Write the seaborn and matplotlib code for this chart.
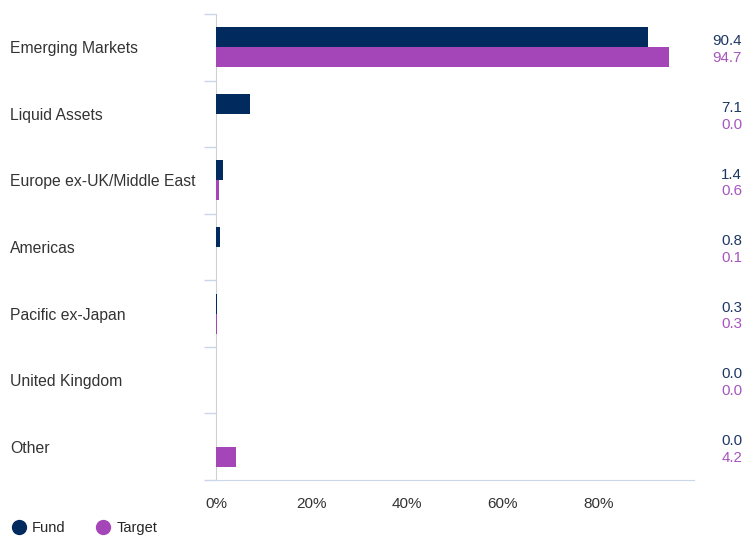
import pandas as pd
import matplotlib
matplotlib.use("Agg")
import matplotlib.pyplot as plt
import matplotlib.transforms as mtransforms
from matplotlib.lines import Line2D
import seaborn as sns

# ==========================================
# DATA
# ==========================================

regions = [
    "Emerging Markets",
    "Liquid Assets",
    "Europe ex-UK/Middle East",
    "Americas",
    "Pacific ex-Japan",
    "United Kingdom",
    "Other",
]
fund = [90.4, 7.1, 1.4, 0.8, 0.3, 0.0, 0.0]
target = [94.7, 0.0, 0.6, 0.1, 0.3, 0.0, 4.2]
x_ticks = [0, 20, 40, 60, 80]
x_tick_labels = ["0%", "20%", "40%", "60%", "80%"]

navy = "#012a5e"
purple = "#a546b8"

df = pd.DataFrame({
    "Region": regions * 2,
    "Value": fund + target,
    "Series": ["Fund"] * len(regions) + ["Target"] * len(regions),
})

# ==========================================
# PLOT
# ==========================================

sns.set_style("white")
plt.rcParams["font.family"] = ["Liberation Sans", "DejaVu Sans"]

fig = plt.figure(figsize=(7.44, 5.36), dpi=100)
ax = fig.add_axes([216 / 744, 56 / 536, 478 / 744, 466 / 536])

sns.barplot(
    data=df,
    x="Value",
    y="Region",
    hue="Series",
    order=regions,
    palette={"Fund": navy, "Target": purple},
    width=0.6,
    saturation=1,
    errorbar=None,
    orient="h",
    linewidth=0,
    ax=ax,
)
ax.get_legend().remove()

ax.set_xlim(0, 100)
ax.set_ylim(len(regions) - 0.5, -0.5)
ax.set_xlabel("")
ax.set_ylabel("")

ax.set_xticks(x_ticks)
ax.set_xticklabels(x_tick_labels, fontsize=11, color="#333333")
ax.tick_params(axis="x", length=0, pad=12)

ax.set_yticks([i - 0.5 for i in range(len(regions) + 1)])
ax.set_yticklabels([])
ax.tick_params(axis="y", left=True, length=8.6, width=1, color="#ccd6eb",
               direction="out")

for s in ["top", "right"]:
    ax.spines[s].set_visible(False)
ax.spines["left"].set_color("#d0d0d0")
ax.spines["left"].set_zorder(0.5)
ax.spines["bottom"].set_color("#ccd6eb")

# category labels, left aligned
lab_tr = mtransforms.blended_transform_factory(fig.transFigure, ax.transData)
for i, name in enumerate(regions):
    ax.text(10 / 744, i, name, transform=lab_tr, ha="left",
            va="center_baseline", fontsize=11.3, color="#333333")

# value labels on the right
for i in range(len(regions)):
    ax.text(742 / 744, i - 0.11, f"{fund[i]:.1f}", transform=lab_tr,
            ha="right", va="center_baseline", fontsize=10.8, color="#1c3763")
    ax.text(742 / 744, i + 0.14, f"{target[i]:.1f}", transform=lab_tr,
            ha="right", va="center_baseline", fontsize=10.8, color="#a654bd")

# legend
handles = [
    Line2D([], [], marker="o", linestyle="", markersize=10, color=navy, label="Fund"),
    Line2D([], [], marker="o", linestyle="", markersize=10, color=purple, label="Target"),
]
fig.legend(handles=handles, loc="center left", bbox_to_anchor=(4 / 744, 1 - 528 / 536),
           ncol=2, frameon=False, fontsize=10.5, handletextpad=0.3,
           columnspacing=2.0, handlelength=1.2, borderaxespad=0)

plt.savefig("out.png", dpi=100)
